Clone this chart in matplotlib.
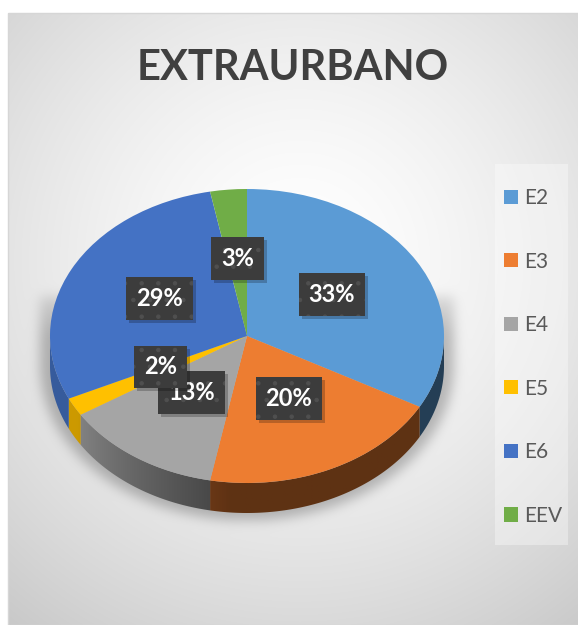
import numpy as np
import matplotlib
matplotlib.use("Agg")
import matplotlib.pyplot as plt
from matplotlib.patches import Rectangle, Polygon
from matplotlib import transforms
import matplotlib.colors as mcolors

# data
categories = ["E2", "E3", "E4", "E5", "E6", "EEV"]
shares = [33, 20, 13, 2, 29, 3]
colors = ["#5b9bd5", "#ed7d31", "#a5a5a5", "#ffc000", "#4472c4", "#70ad47"]
title = "EXTRAURBANO"

# layout in pixels
W, H = 578, 625
CX, CY = 247, 336      # centre of the top face
RX, RY = 197, 147      # semi axes of the top face
DEPTH = 30             # thickness of the disc

plt.rcParams["hatch.linewidth"] = 0.8

def blur(a, s):
    r = int(3 * s)
    k = np.exp(-0.5 * (np.arange(-r, r + 1) / s) ** 2)
    k /= k.sum()
    a = np.apply_along_axis(lambda v: np.convolve(v, k, mode="same"), 0, a)
    a = np.apply_along_axis(lambda v: np.convolve(v, k, mode="same"), 1, a)
    return a

# background: radial gradient + soft shadow under the pie
yy, xx = np.mgrid[0:H, 0:W] + 0.5
dist = np.hypot(xx - 300, yy - 260)
g = np.clip(255 - 48 * (dist / 430) ** 1.5, 195, 255) / 255.0

dx = np.abs(xx - CX)
ax_s = RX * 1.05
rect = (dx <= ax_s) & (yy >= CY - 40) & (yy <= CY + DEPTH)
ell = ((xx - CX) / ax_s) ** 2 + ((yy - CY - DEPTH) / (RY * 1.05)) ** 2 <= 1
mask = (rect | (ell & (yy >= CY + DEPTH))).astype(float)
mask *= np.clip((yy - (CY - 70)) / 70, 0, 1)
mask = blur(mask, 6)
g = g * (1 - 0.25 * mask)

g[(xx < 8) | (yy < 13)] = 1.0
bg = np.dstack([g, g, g])

fig = plt.figure(figsize=(W / 100, H / 100), dpi=100)
bg_ax = fig.add_axes([0, 0, 1, 1])
bg_ax.imshow(bg, extent=(0, W, H, 0), interpolation="bilinear")
bg_ax.set_aspect("auto")
bg_ax.set_xlim(0, W)
bg_ax.set_ylim(H, 0)
bg_ax.axis("off")
fig.patches.append(Rectangle((8 / W, 0), 1, 1 - 13 / H, transform=fig.transFigure,
                             facecolor="none", edgecolor="#d6d6d6", linewidth=1))

# pie axes: one data unit = RX px horizontally, RY px vertically
ax = fig.add_axes([0, 0, 1, 1])
ax.patch.set_alpha(0)
wedges, _ = ax.pie(shares, colors=colors, startangle=90, counterclock=False,
                   radius=1, wedgeprops=dict(linewidth=0, zorder=3))

# side of the disc: one polygon per visible part, shaded with a clipped gradient
d = DEPTH / RY
xs = np.linspace(-1, 1, 400)
ang = -np.degrees(np.arccos(xs))
shade = 0.4 + 0.4 * np.clip((-95 - ang) / 55, 0, 1)
for w, c in zip(wedges, colors):
    base = np.array(mcolors.to_rgb(c))
    for shift in (-360, 0, 360):
        lo = max(w.theta1 + shift, -180)
        hi = min(w.theta2 + shift, 0)
        if hi <= lo:
            continue
        t = np.radians(np.linspace(lo, hi, 100))
        top = np.column_stack([np.cos(t), np.sin(t)])
        bot = np.column_stack([np.cos(t[::-1]), np.sin(t[::-1]) - d])
        poly = Polygon(np.vstack([top, bot]), closed=True, facecolor="none",
                       edgecolor="none", transform=ax.transData)
        ax.add_patch(poly)
        img = base[None, None, :] * shade[None, :, None]
        im = ax.imshow(img, extent=(-1, 1, -1 - d, 0.1), aspect="auto",
                       interpolation="bilinear", zorder=2)
        im.set_clip_path(poly)

ax.set_aspect("auto")
ax.set_xlim(-CX / RX, (W - CX) / RX)
ax.set_ylim((CY - H) / RY, CY / RY)
ax.axis("off")

# data labels
shadow_tr = transforms.offset_copy(ax.transData, fig=fig, x=3, y=-3, units="dots")
for i, (w, v) in enumerate(zip(wedges, shares)):
    mid = np.radians((w.theta1 + w.theta2) / 2)
    x, y = 0.5 * np.cos(mid), 0.5 * np.sin(mid) + 0.03
    ax.text(x, y, f"{v}%", transform=shadow_tr, ha="center", va="center",
            fontsize=17, fontweight="bold", family="Lato", color="none",
            bbox=dict(boxstyle="square,pad=0.42", facecolor="black", alpha=0.22, linewidth=0),
            zorder=10 + 2 * i)
    ax.text(x, y, f"{v}%", ha="center", va="center", fontsize=17, fontweight="bold",
            family="Lato", color="white",
            bbox=dict(boxstyle="square,pad=0.42", facecolor="#3c3c3c", edgecolor="#4f4f4f",
                      linewidth=0, hatch="."),
            zorder=11 + 2 * i)

# title
fig.text(293 / W, 1 - 80 / H, title, ha="center", va="baseline", fontsize=30,
         fontweight="bold", family="Lato", color="#404040")

# legend
fig.patches.append(Rectangle((495 / W, 1 - 545 / H), 73 / W, 381 / H, transform=fig.transFigure,
                             facecolor="white", alpha=0.35, edgecolor="none"))
fig.legend(wedges, categories, loc="upper left", bbox_to_anchor=(504 / W, 1 - 188 / H),
           frameon=False, prop=dict(family="Lato", size=15), labelcolor="#595959",
           labelspacing=2.09, handlelength=0.68, handleheight=0.68, handletextpad=0.3,
           borderpad=0, borderaxespad=0)

fig.savefig("out.png", dpi=100)
